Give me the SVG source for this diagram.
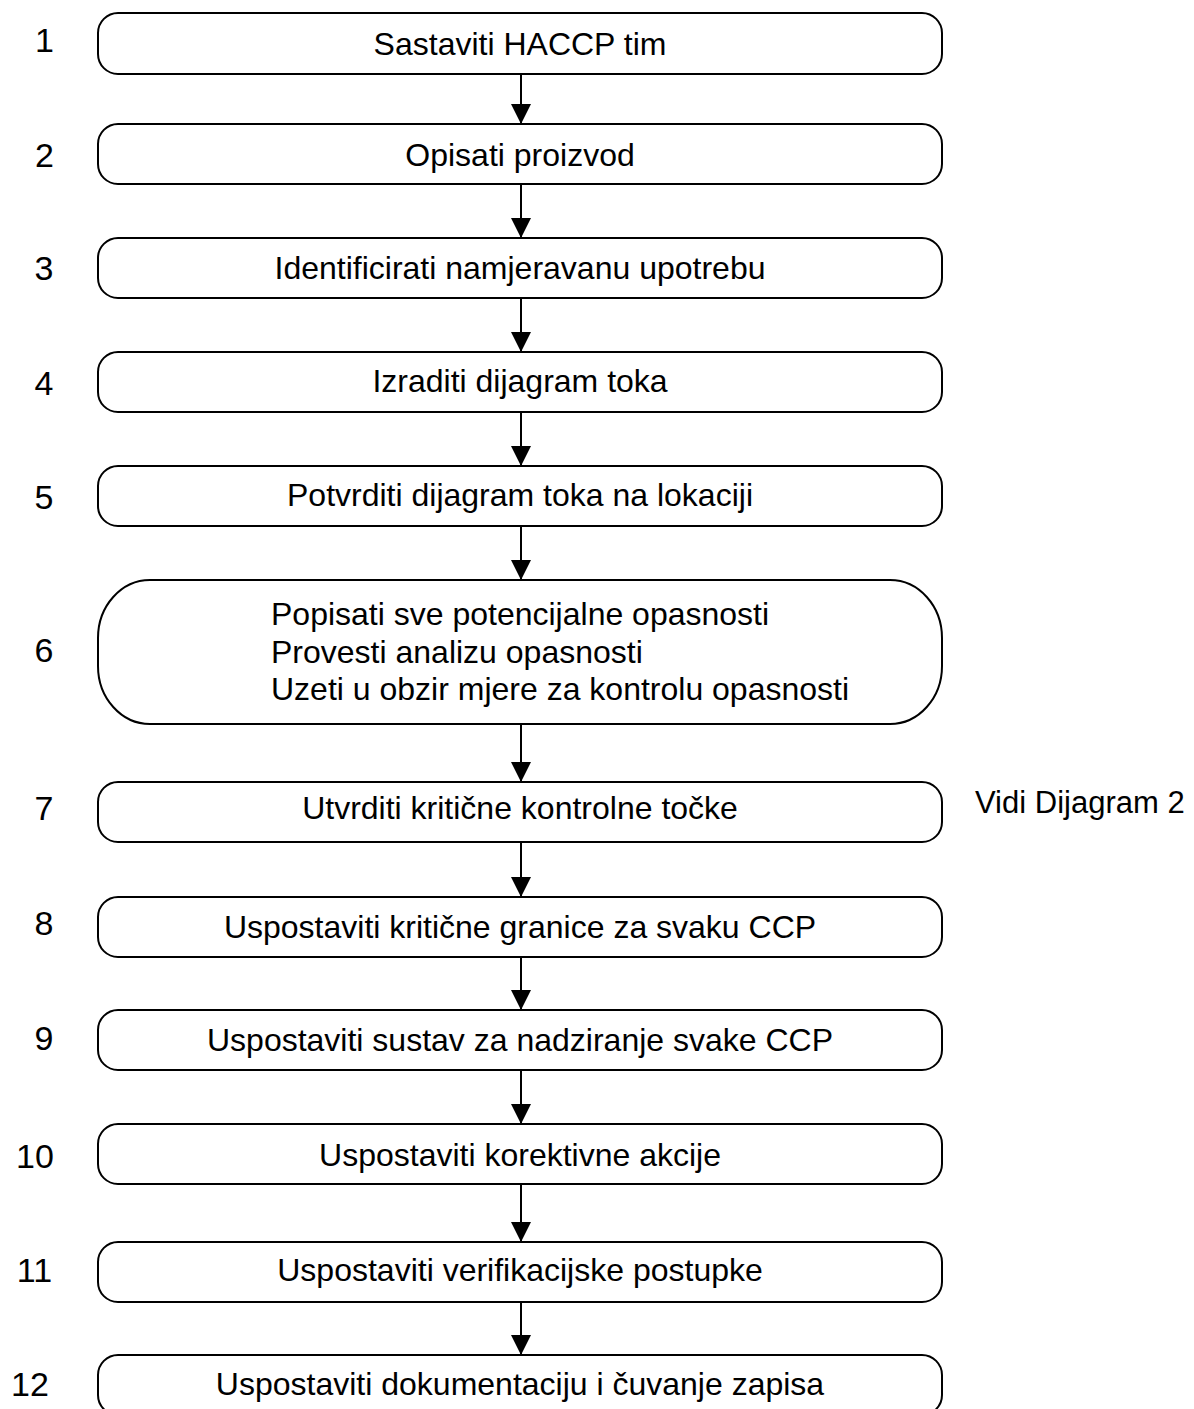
<svg xmlns="http://www.w3.org/2000/svg" width="1194" height="1409" viewBox="0 0 1194 1409">
<defs>
<style>
.box{fill:#fff;stroke:#000;stroke-width:2}
.t{font-family:"Liberation Sans",Arial,sans-serif;font-size:32px;fill:#000;text-anchor:middle}
.tl{font-family:"Liberation Sans",Arial,sans-serif;font-size:32px;fill:#000}
.v{font-family:"Liberation Sans",Arial,sans-serif;font-size:31px;fill:#000}
.n{font-family:"Liberation Sans",Arial,sans-serif;font-size:34px;fill:#000;text-anchor:middle}
.c{stroke:#000;stroke-width:2;fill:none}
</style>
<marker id="ah" markerUnits="userSpaceOnUse" markerWidth="20" markerHeight="20" viewBox="0 0 20 20" refX="20" refY="10" orient="auto">
<path d="M0,0 L20,10 L0,20 Z" fill="#000"/>
</marker>
</defs>
<rect width="1194" height="1409" fill="#fff"/>
<g id="connectors">
<line class="c" x1="521" y1="74" x2="521" y2="124" marker-end="url(#ah)"/>
<line class="c" x1="521" y1="184" x2="521" y2="238" marker-end="url(#ah)"/>
<line class="c" x1="521" y1="298" x2="521" y2="352" marker-end="url(#ah)"/>
<line class="c" x1="521" y1="412" x2="521" y2="466" marker-end="url(#ah)"/>
<line class="c" x1="521" y1="526" x2="521" y2="580" marker-end="url(#ah)"/>
<line class="c" x1="521" y1="724" x2="521" y2="782" marker-end="url(#ah)"/>
<line class="c" x1="521" y1="842" x2="521" y2="897" marker-end="url(#ah)"/>
<line class="c" x1="521" y1="957" x2="521" y2="1010" marker-end="url(#ah)"/>
<line class="c" x1="521" y1="1070" x2="521" y2="1124" marker-end="url(#ah)"/>
<line class="c" x1="521" y1="1184" x2="521" y2="1242" marker-end="url(#ah)"/>
<line class="c" x1="521" y1="1302" x2="521" y2="1355" marker-end="url(#ah)"/>
</g>
<g id="step1"><text class="n" x="44.5" y="52">1</text><rect class="box" x="98" y="13" width="844" height="61" rx="20" ry="20"/><text class="t" x="520" y="55">Sastaviti HACCP tim</text></g>
<g id="step2"><text class="n" x="44.5" y="167">2</text><rect class="box" x="98" y="124" width="844" height="60" rx="20" ry="20"/><text class="t" x="520" y="166">Opisati proizvod</text></g>
<g id="step3"><text class="n" x="44" y="280">3</text><rect class="box" x="98" y="238" width="844" height="60" rx="20" ry="20"/><text class="t" x="520" y="279">Identificirati namjeravanu upotrebu</text></g>
<g id="step4"><text class="n" x="44" y="395">4</text><rect class="box" x="98" y="352" width="844" height="60" rx="20" ry="20"/><text class="t" x="520" y="392">Izraditi dijagram toka</text></g>
<g id="step5"><text class="n" x="44" y="509">5</text><rect class="box" x="98" y="466" width="844" height="60" rx="20" ry="20"/><text class="t" x="520" y="506">Potvrditi dijagram toka na lokaciji</text></g>
<g id="step6"><text class="n" x="44" y="662">6</text><rect class="box" x="98" y="580" width="844" height="144" rx="52" ry="58"/><text class="tl" x="271" y="625">Popisati sve potencijalne opasnosti</text><text class="tl" x="271" y="662.5">Provesti analizu opasnosti</text><text class="tl" x="271" y="700">Uzeti u obzir mjere za kontrolu opasnosti</text></g>
<g id="step7"><text class="n" x="44" y="820">7</text><rect class="box" x="98" y="782" width="844" height="60" rx="20" ry="20"/><text class="t" x="520" y="819">Utvrditi kritične kontrolne točke</text><text class="v" x="975" y="813">Vidi Dijagram 2</text></g>
<g id="step8"><text class="n" x="44" y="935">8</text><rect class="box" x="98" y="897" width="844" height="60" rx="20" ry="20"/><text class="t" x="520" y="938">Uspostaviti kritične granice za svaku CCP</text></g>
<g id="step9"><text class="n" x="44" y="1050">9</text><rect class="box" x="98" y="1010" width="844" height="60" rx="20" ry="20"/><text class="t" x="520" y="1051">Uspostaviti sustav za nadziranje svake CCP</text></g>
<g id="step10"><text class="n" x="35" y="1168">10</text><rect class="box" x="98" y="1124" width="844" height="60" rx="20" ry="20"/><text class="t" x="520" y="1166">Uspostaviti korektivne akcije</text></g>
<g id="step11"><text class="n" x="34.5" y="1282">11</text><rect class="box" x="98" y="1242" width="844" height="60" rx="20" ry="20"/><text class="t" x="520" y="1281">Uspostaviti verifikacijske postupke</text></g>
<g id="step12"><text class="n" x="30" y="1396">12</text><rect class="box" x="98" y="1355" width="844" height="60" rx="20" ry="20"/><text class="t" x="520" y="1395">Uspostaviti dokumentaciju i čuvanje zapisa</text></g>
</svg>
